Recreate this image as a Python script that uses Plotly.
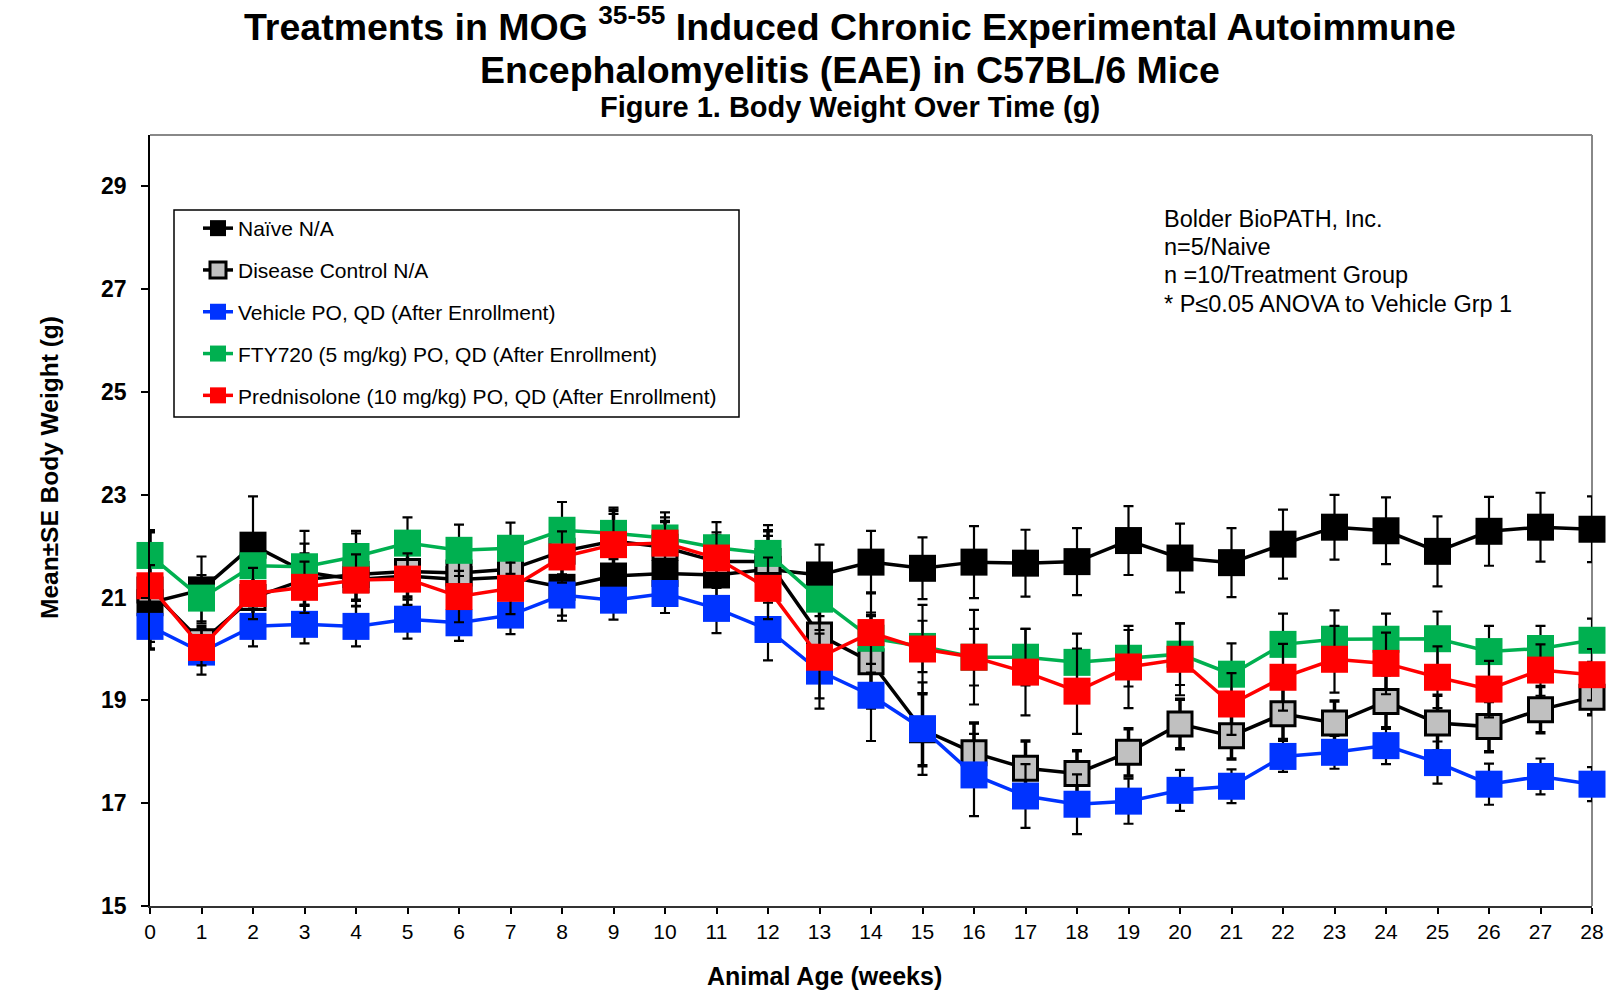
import plotly.graph_objects as go

weeks = list(range(29))

naive = [20.9, 21.15, 22.02, 21.5, 21.35, 21.42, 21.35, 21.4, 21.2, 21.42, 21.47, 21.44, 21.55,
         21.44, 21.69, 21.57, 21.69, 21.67, 21.7, 22.11, 21.77, 21.68, 22.04, 22.37, 22.3, 21.9,
         22.29, 22.37, 22.33]
naive_se = [0.5, 0.65, 0.95, 0.8, 0.9, 0.7, 0.7, 0.7, 0.65, 0.7, 0.6, 0.6, 0.65, 0.59, 0.61, 0.6,
            0.7, 0.65, 0.65, 0.67, 0.67, 0.67, 0.67, 0.63, 0.65, 0.68, 0.67, 0.67, 0.64]

disease = [21.15, 20.14, 21.0, 21.35, 21.45, 21.51, 21.48, 21.55, 21.9, 22.1, 21.98, 21.7, 21.7,
           20.27, 19.75, 18.43, 17.98, 17.68, 17.58, 17.99, 18.54, 18.31, 18.74, 18.56, 18.98,
           18.56, 18.49, 18.82, 19.06]
disease_se = [1.15, 0.3, 0.5, 0.5, 0.5, 0.5, 0.5, 0.5, 0.5, 0.6, 0.5, 0.5, 0.6, 0.7, 0.9, 0.7,
              0.58, 0.53, 0.44, 0.46, 0.48, 0.45, 0.5, 0.43, 0.52, 0.54, 0.49, 0.45, 0.34]

vehicle = [20.44, 19.94, 20.44, 20.48, 20.44, 20.58, 20.51, 20.66, 21.05, 20.95, 21.08, 20.79,
           20.38, 19.57, 19.1, 18.45, 17.55, 17.14, 16.98, 17.04, 17.25, 17.33, 17.91, 17.99,
           18.12, 17.79, 17.37, 17.52, 17.37]
vehicle_se = [0.3, 0.44, 0.39, 0.37, 0.39, 0.38, 0.35, 0.37, 0.4, 0.38, 0.38, 0.48, 0.6, 0.73,
              0.89, 0.9, 0.8, 0.62, 0.58, 0.44, 0.4, 0.33, 0.3, 0.32, 0.36, 0.41, 0.4, 0.35, 0.33]

fty720 = [21.82, 20.99, 21.62, 21.6, 21.8, 22.06, 21.92, 21.96, 22.31, 22.25, 22.16, 21.97, 21.86,
          20.97, 20.21, 20.05, 19.84, 19.84, 19.74, 19.82, 19.9, 19.51, 20.09, 20.19, 20.19,
          20.2, 19.95, 20.01, 20.17]
fty720_se = [0.45, 0.45, 0.5, 0.45, 0.5, 0.5, 0.5, 0.5, 0.55, 0.5, 0.5, 0.5, 0.55, 0.6, 0.5, 0.5,
             0.55, 0.55, 0.56, 0.55, 0.6, 0.6, 0.6, 0.56, 0.5, 0.53, 0.5, 0.44, 0.42]

pred = [21.23, 20.03, 21.08, 21.2, 21.34, 21.36, 21.02, 21.18, 21.79, 22.03, 22.06, 21.77, 21.18,
        19.84, 20.32, 20.0, 19.84, 19.55, 19.18, 19.65, 19.8, 18.93, 19.45, 19.8, 19.72, 19.45,
        19.22, 19.59, 19.5]
pred_se = [0.4, 0.35, 0.5, 0.5, 0.5, 0.5, 0.5, 0.5, 0.5, 0.6, 0.5, 0.5, 0.6, 0.8, 0.78, 0.86,
           0.92, 0.84, 0.83, 0.8, 0.7, 0.6, 0.65, 0.65, 0.6, 0.6, 0.55, 0.5, 0.5]

series_names = ["Naïve N/A", "Disease Control N/A", "Vehicle PO, QD (After Enrollment)",
                "FTY720 (5 mg/kg) PO, QD (After Enrollment)",
                "Prednisolone (10 mg/kg) PO, QD (After Enrollment)"]
y_ticks = [15, 17, 19, 21, 23, 25, 27, 29]

title_line1 = "Treatments in MOG <sup>35-55</sup> Induced Chronic Experimental Autoimmune"
title_line2 = "Encephalomyelitis (EAE) in C57BL/6 Mice"
title_line3 = "Figure 1. Body Weight Over Time (g)"
note_lines = ["Bolder BioPATH, Inc.", "n=5/Naive", "n =10/Treatment Group",
              "* P≤0.05 ANOVA to Vehicle Grp 1"]
x_title = "Animal Age (weeks)"
y_title = "Mean±SE Body Weight (g)"

W, H = 1620, 1004
L, R, T, B = 150, 28, 135, 98
PW, PH = W - L - R, H - T - B


def px(xp):
    return (xp - L) / PW


def py(yp):
    return (H - B - yp) / PH


FONT = "Liberation Sans, Arial, sans-serif"

styles = [
    dict(data=naive, se=naive_se, line="#000000", fill="#000000", mline="#000000", mlw=0, ew=2.2),
    dict(data=disease, se=disease_se, line="#000000", fill="#C0C0C0", mline="#000000", mlw=3, ew=3.5),
    dict(data=vehicle, se=vehicle_se, line="#0033FF", fill="#0033FF", mline="#0033FF", mlw=0, ew=2.2),
    dict(data=fty720, se=fty720_se, line="#00B050", fill="#00B050", mline="#00B050", mlw=0, ew=2.2),
    dict(data=pred, se=pred_se, line="#FF0000", fill="#FF0000", mline="#FF0000", mlw=0, ew=2.2),
]

fig = go.Figure()
for name, s in zip(series_names, styles):
    fig.add_trace(go.Scatter(
        x=weeks, y=s["data"], name=name, mode="lines+markers",
        legendgroup=name,
        line=dict(color=s["line"], width=3.5),
        marker=dict(symbol="square", size=27 if s["mlw"] == 0 else 24, color=s["fill"],
                    line=dict(color=s["mline"], width=s["mlw"])),
        error_y=dict(type="data", array=s["se"], visible=True, color="#000000",
                     thickness=s["ew"], width=5),
        cliponaxis=False,
    ))

fig.update_layout(
    width=W, height=H,
    margin=dict(l=L, r=R, t=T, b=B, pad=0),
    paper_bgcolor="white", plot_bgcolor="white",
    font=dict(family=FONT, color="#000000"),
    showlegend=True,
    legend=dict(
        x=px(198), y=py(208), xanchor="left", yanchor="top",
        bgcolor="rgba(0,0,0,0)", borderwidth=0,
        font=dict(size=21, family=FONT, color="#000000"),
        traceorder="grouped", tracegroupgap=11.5,
    ),
    xaxis=dict(
        range=[0, 28], tickmode="array", tickvals=weeks, ticktext=[str(w) for w in weeks],
        ticks="outside", ticklen=6, tickwidth=1.5, tickcolor="#000000",
        showline=True, linecolor="#333333", linewidth=2, showgrid=False, zeroline=False,
        tickfont=dict(size=21, family=FONT, color="#000000"),
    ),
    yaxis=dict(
        range=[15, 30], tickmode="array", tickvals=y_ticks,
        ticktext=["<b>%d</b>" % v for v in y_ticks],
        ticks="outside", ticklen=7, tickwidth=1.5, tickcolor="#000000",
        showline=True, linecolor="#000000", linewidth=1.5, showgrid=False, zeroline=False,
        tickfont=dict(size=23, family=FONT, color="#000000"),
        ticklabelstandoff=10,
    ),
)

# gray frame on top and right
fig.add_shape(type="line", xref="paper", yref="paper", x0=0, x1=1, y0=1, y1=1,
              line=dict(color="#888888", width=2), layer="below")
fig.add_shape(type="line", xref="paper", yref="paper", x0=1, x1=1, y0=0, y1=1,
              line=dict(color="#888888", width=2), layer="below")
# legend box
fig.add_shape(type="rect", xref="paper", yref="paper", x0=px(174), x1=px(739),
              y0=py(417), y1=py(210), line=dict(color="#000000", width=1.5),
              fillcolor="white", layer="below")

ann = []
ann.append(dict(text="<b>" + title_line1 + "</b>", x=px(850), y=py(24), font=dict(size=37.5)))
ann.append(dict(text="<b>" + title_line2 + "</b>", x=px(850), y=py(70), font=dict(size=37.5)))
ann.append(dict(text="<b>" + title_line3 + "</b>", x=px(850), y=py(107), font=dict(size=29)))
ann.append(dict(text="<b>" + x_title + "</b>", x=px(824), y=py(976), font=dict(size=25)))
ann.append(dict(text="<b>" + y_title + "</b>", x=px(49), y=py(468), font=dict(size=24.5),
                textangle=-90))
for a in ann:
    a.update(xref="paper", yref="paper", xanchor="center", yanchor="middle", showarrow=False)
    a["font"].update(family=FONT, color="#000000")
    fig.add_annotation(**a)

note_y = [219, 247, 275, 304]
for txt, yy in zip(note_lines, note_y):
    fig.add_annotation(text=txt, x=px(1162), y=py(yy), xref="paper", yref="paper",
                       xanchor="left", yanchor="middle", showarrow=False,
                       font=dict(size=23.5, family=FONT, color="#000000"))

fig.write_html("out.html", config={"displayModeBar": False},
               post_script="document.body.style.margin='0px';")
